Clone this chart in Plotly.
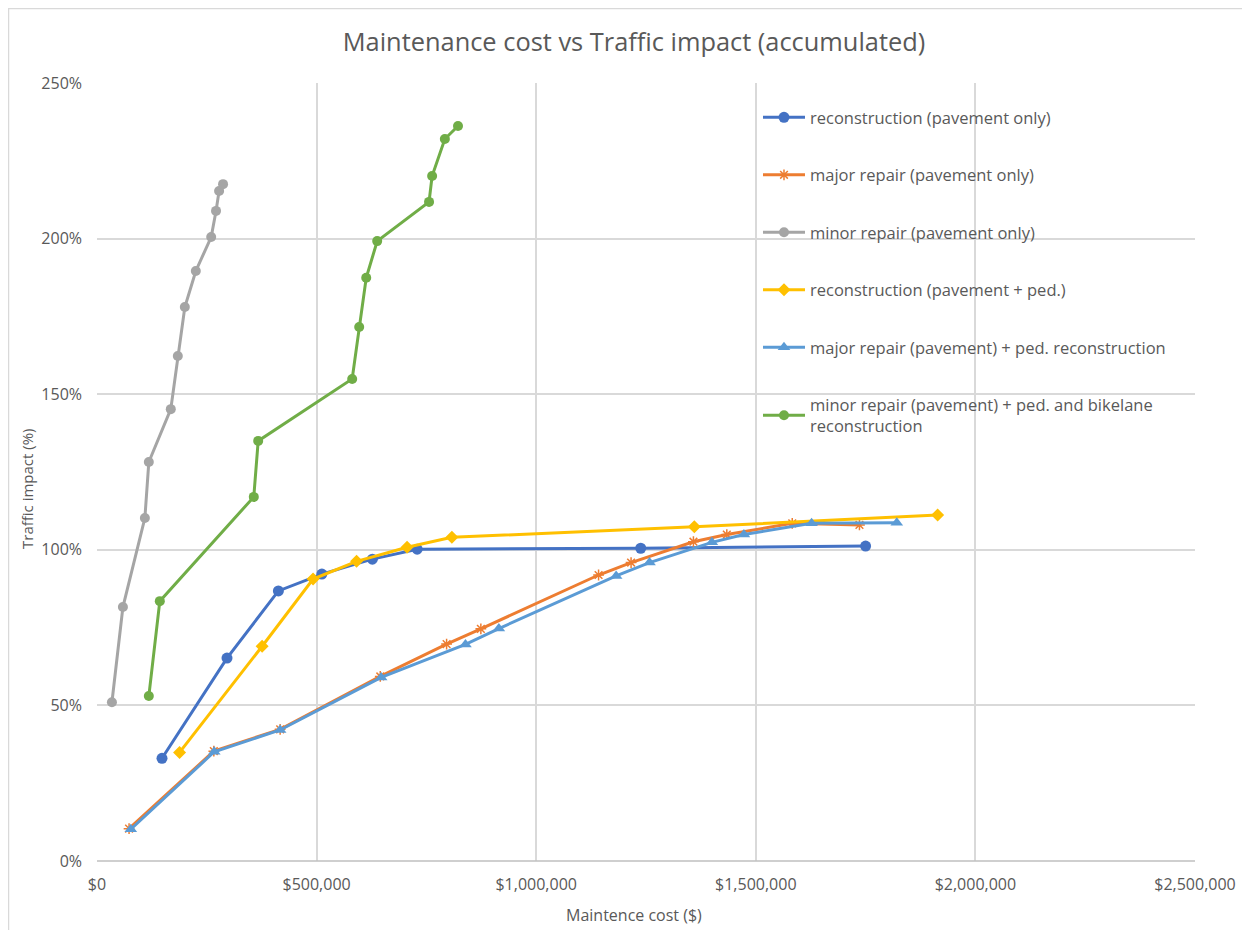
import plotly.graph_objects as go

# ---- data (cost in $, traffic impact in %) ----
recon_cost = [148000, 296000, 413000, 512000, 627000, 729000, 1238000, 1750000]
recon_imp = [33.0, 65.2, 86.8, 92.2, 97.0, 100.2, 100.5, 101.2]

major_cost = [73000, 266000, 417000, 645000, 796000, 874000, 1142000, 1216000, 1358000, 1434000, 1583000, 1736000]
major_imp = [10.4, 35.3, 42.3, 59.3, 69.7, 74.6, 91.9, 95.9, 102.6, 104.9, 108.5, 108.0]

minor_cost = [34000, 59000, 109000, 118000, 168000, 184000, 200000, 225000, 260000, 271000, 278000, 287000]
minor_imp = [51.0, 81.6, 110.2, 128.2, 145.2, 162.3, 178.0, 189.6, 200.5, 208.9, 215.3, 217.5]

reconped_cost = [188000, 376000, 492000, 591000, 706000, 808000, 1360000, 1914000]
reconped_imp = [34.9, 69.0, 90.6, 96.3, 100.8, 104.0, 107.4, 111.2]

majorped_cost = [77000, 267000, 417000, 647000, 839000, 915000, 1182000, 1258000, 1400000, 1473000, 1627000, 1821000]
majorped_imp = [10.2, 35.1, 42.1, 59.0, 69.6, 74.7, 91.6, 95.9, 102.4, 104.9, 108.5, 108.7]

minorbike_cost = [118000, 143000, 357000, 367000, 581000, 597000, 613000, 638000, 756000, 763000, 792000, 822000]
minorbike_imp = [53.0, 83.5, 117.0, 135.0, 154.9, 171.6, 187.4, 199.2, 211.8, 220.1, 232.0, 236.2]

x_ticks = [0, 500000, 1000000, 1500000, 2000000, 2500000]
x_tick_labels = ["$0", "$500,000", "$1,000,000", "$1,500,000", "$2,000,000", "$2,500,000"]
y_ticks = [0, 50, 100, 150, 200, 250]
y_tick_labels = ["0%", "50%", "100%", "150%", "200%", "250%"]

FONT = "'Open Sans', 'Noto Sans', sans-serif"
TXT = "#595959"

series = [
    ("reconstruction (pavement only)", recon_cost, recon_imp, "#4472C4", "circle", 11),
    ("major repair (pavement only)", major_cost, major_imp, "#ED7D31", "asterisk-open", 9),
    ("minor repair (pavement only)", minor_cost, minor_imp, "#A5A5A5", "circle", 10),
    ("reconstruction (pavement + ped.)", reconped_cost, reconped_imp, "#FFC000", "diamond", 10),
    ("major repair (pavement) + ped. reconstruction", majorped_cost, majorped_imp, "#5B9BD5", "triangle-up", 11),
    ("minor repair (pavement) + ped. and bikelane<br>reconstruction", minorbike_cost, minorbike_imp, "#70AD47", "circle", 10),
]

fig = go.Figure()
for i, (name, xs, ys, col, sym, sz) in enumerate(series):
    marker = dict(color=col, symbol=sym, size=sz)
    if sym == "asterisk-open":
        marker["line"] = dict(color=col, width=1.5)
    fig.add_trace(go.Scatter(
        x=xs, y=ys, name=name, mode="lines+markers",
        line=dict(color=col, width=3), marker=marker,
        legendgroup=f"g{i}",
    ))

L, T, PW, PH = 89, 75, 1098, 778
fig.update_layout(
    width=1250, height=930,
    margin=dict(l=L, r=1250 - L - PW, t=T, b=930 - T - PH),
    paper_bgcolor="white", plot_bgcolor="white",
    font=dict(family=FONT, color=TXT, size=16),
    title=dict(text="Maintenance cost vs Traffic impact (accumulated)",
               x=0.5008, xanchor="center", y=1 - 34 / 930, yanchor="middle",
               font=dict(size=25.4, color=TXT, family=FONT)),
    showlegend=True,
    legend=dict(x=0.602, xanchor="left", y=0.978, yanchor="top",
                bgcolor="rgba(0,0,0,0)", tracegroupgap=33, itemwidth=42,
                font=dict(size=16.5, color=TXT, family=FONT),
                traceorder="grouped"),
)
fig.update_xaxes(range=[0, 2500000], tickmode="array", tickvals=x_ticks, ticktext=x_tick_labels,
                 showgrid=True, gridcolor="#D9D9D9", gridwidth=1.5,
                 zeroline=False, showline=False, ticks="", ticklabelstandoff=12,
                 tickfont=dict(size=16, color=TXT))
fig.update_yaxes(range=[0, 250], tickmode="array", tickvals=y_ticks, ticktext=y_tick_labels,
                 showgrid=True, gridcolor="#D9D9D9", gridwidth=1.5,
                 zeroline=False, showline=False, ticks="", ticklabelstandoff=14,
                 tickfont=dict(size=16, color=TXT))
# axis titles
fig.add_annotation(text="Maintence cost ($)", xref="paper", yref="paper",
                   x=(626 - L) / PW, y=(T + PH - 907) / PH, xanchor="center", yanchor="middle",
                   showarrow=False, font=dict(size=16, color=TXT, family=FONT))
fig.add_annotation(text="Traffic impact (%)", xref="paper", yref="paper", textangle=-90,
                   x=(19 - L) / PW, y=(T + PH - 481) / PH, xanchor="center", yanchor="middle",
                   showarrow=False, font=dict(size=15, color=TXT, family=FONT))
# bottom axis line
fig.add_shape(type="line", xref="paper", yref="paper", x0=0, x1=1, y0=0, y1=0,
              line=dict(color="#BFBFBF", width=1.5))
# chart-area border (top and left visible)
fig.add_shape(type="rect", xref="paper", yref="paper",
              x0=(0.5 - L) / PW, x1=2, y0=-1, y1=(T + PH - 0.5) / PH,
              line=dict(color="#D9D9D9", width=1.5))

fig.write_html("out.html")
